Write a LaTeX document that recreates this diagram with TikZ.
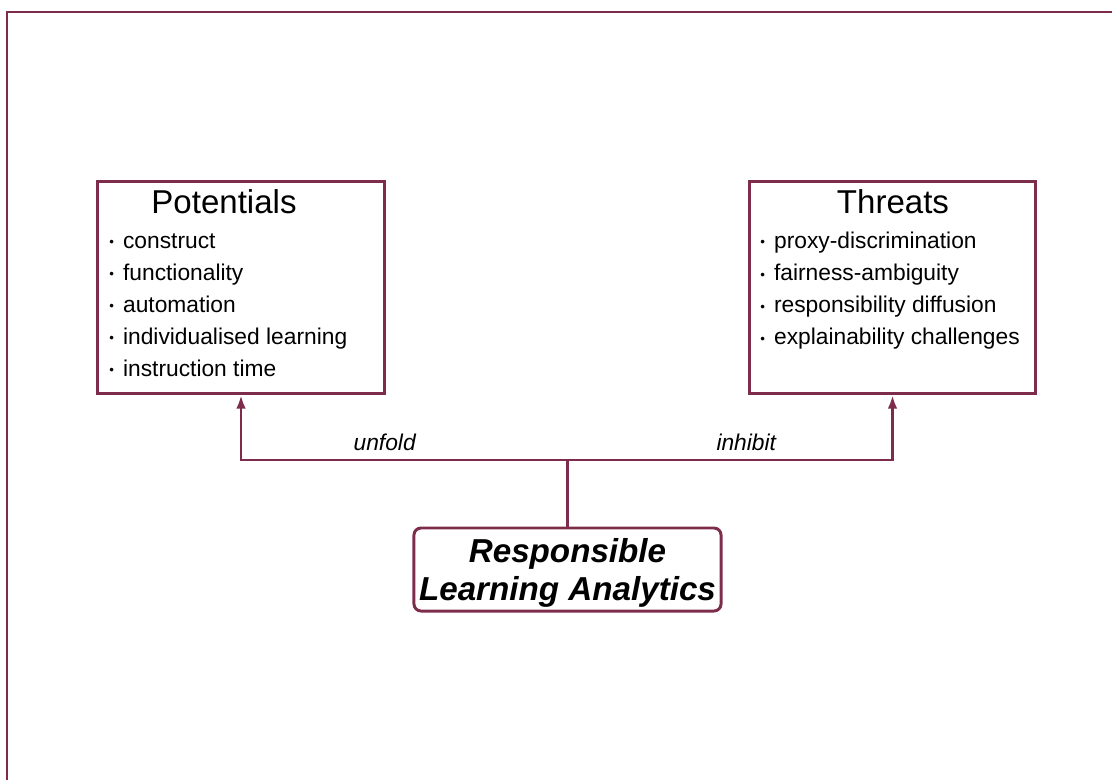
\documentclass[tikz,border=0pt]{standalone}
\usepackage{fontspec}
\setmainfont{Liberation Sans}
\usetikzlibrary{arrows.meta}
\definecolor{wine}{RGB}{125,45,75}
\newcommand{\itm}{\raisebox{1.3pt}{\fontsize{9.5}{9.5}\selectfont\textbullet}\hspace{6.5pt}}

\begin{document}
\begin{tikzpicture}[x=0.025cm,y=-0.025cm,
box/.style={draw=wine,line width=2.1pt,minimum width=7.175cm,minimum height=5.3cm,anchor=north west,inner sep=0pt},
heading/.style={font=\fontsize{23.5}{28}\selectfont,inner sep=0pt},
items/.style={font=\fontsize{16.2}{22.8}\selectfont,align=left,anchor=north west,inner sep=0pt},
link/.style={draw=wine,line width=2.1pt},
tag/.style={font=\fontsize{16.2}{19}\selectfont\itshape,above=2pt}]
\useasboundingbox (0,0) rectangle (1112,779);
\draw [wine,line width=1.4pt] (7,12) rectangle (1140,800);
% the two boxes
\node [box] (pot) at (96,180) {};
\node [heading] (pothead) at (224,202) {Potentials};
\node [items] (potlist) at (109,233) {\itm construct\\\itm functionality\\\itm automation\\\itm individualised learning\\\itm instruction time};
\node [box,minimum width=7.15cm] (thr) at (748,180) {};
\node [heading] (thrhead) at (893,202) {Threats};
\node [items] (thrlist) at (760,232) {\itm proxy-discrimination\\\itm fairness-ambiguity\\\itm responsibility diffusion\\\itm explainability challenges};
% the source box
\node [draw=wine,line width=2.1pt,rounded corners=5pt,minimum width=7.675cm,minimum height=2.075cm,inner sep=0pt,align=center,text depth=0pt,
  font=\fontsize{23.6}{27}\selectfont\bfseries\itshape] (rla) at (567.5,569.5) {Responsible\\Learning Analytics};
\coordinate (fork) at (567.5,460);
\draw [link] (rla.north) -- (fork);
\draw [link,-{Latex[length=0.34cm,width=0.24cm]}] (fork) -| node [tag,pos=0.28] {unfold} (pot.south);
\draw [link,-{Latex[length=0.34cm,width=0.24cm]}] (fork) -| node [tag,pos=0.275] {inhibit} (thr.south);
\end{tikzpicture}
\end{document}
